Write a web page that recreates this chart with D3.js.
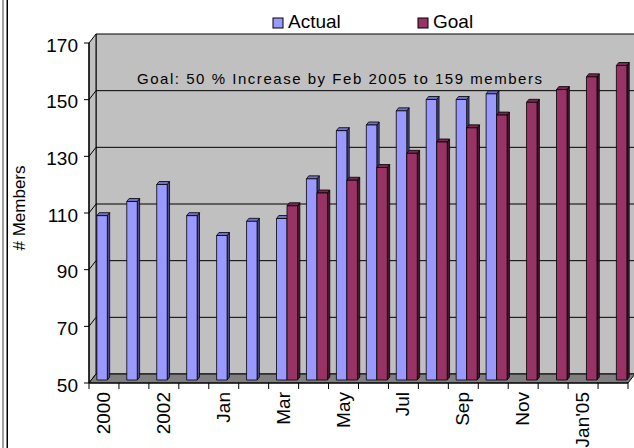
<!DOCTYPE html>
<meta charset="utf-8">
<title>Members: actual vs goal</title>
<style>
  body {
    margin: 0;
    padding: 0;
    background-color: #fff;
    overflow: hidden;
  }

  svg text {
    font-family: "Liberation Sans", Arial, sans-serif;
    fill: #000;
  }

  .wall {
    fill: #c0c0c0;
    stroke: #000;
    stroke-width: 1;
  }

  .floor {
    fill: #808080;
    stroke: #000;
    stroke-width: 1;
  }

  .grid line {
    stroke: #000;
    stroke-width: 1;
  }

  .bar path {
    stroke: #000;
    stroke-width: 0.8;
    stroke-linejoin: round;
  }
</style>

<body>
  <script src="https://cdn.jsdelivr.net/npm/d3@7"></script>
  <script>
    const categories = ["2000", "2001", "2002", "2003", "Jan", "Feb", "Mar", "Apr", "May", "Jun",
      "Jul", "Aug", "Sep", "Oct", "Nov", "Dec", "Jan'05", "Feb"];
    // Excel only prints every second category label
    const shownLabels = ["2000", "2002", "Jan", "Mar", "May", "Jul", "Sep", "Nov", "Jan'05"];
    const actual = [108, 113, 119, 108, 101, 106, 107, 121, 138, 140, 145, 149, 149, 151,
      null, null, null, null];
    const goal = [null, null, null, null, null, null, 111.5, 116, 120.5, 125, 130, 134, 139,
      143.5, 148, 152.5, 157, 161];
    const yTicks = [50, 70, 90, 110, 130, 150, 170];
    const seriesNames = ["Actual", "Goal"];
    const note = "Goal: 50 % Increase by Feb 2005 to 159 members";

    var width = 634,
      height = 448;

    // 3d depth of the plot box (back wall is shifted by this much)
    var depth = [7, -9];
    var f1 = 1 / 3, f2 = 2 / 3;

    var colors = {
      Actual: { front: "#9999ff", top: "#7070c8", side: "#4d4d8a" },
      Goal: { front: "#993366", top: "#7a2850", side: "#4a1530" }
    };

    // "Feb" shows up twice, so the band scale is keyed by index
    var x = d3.scaleBand().domain(d3.range(categories.length)).range([89, 628]);
    var inner = d3.scaleBand().domain(seriesNames).range([5.5, 26.5]);
    var y = d3.scaleLinear().domain([50, 170]).range([383, 43]);

    var pt = (px, v, f) => [px + depth[0] * f, y(v) + depth[1] * f];
    var poly = pts => "M" + pts.map(p => p.join(",")).join("L") + "Z";

    var svg = d3.select("body").append("svg")
      .attr("width", width)
      .attr("height", height);

    // outer frame edge on the left
    svg.append("rect").attr("x", 2).attr("y", 0).attr("width", 2).attr("height", height).attr("fill", "#a0a0a0");
    svg.append("rect").attr("x", 6.5).attr("y", 0).attr("width", 1.5).attr("height", height).attr("fill", "#000");

    var x0 = x.range()[0], x1 = x.range()[1];

    // back wall, side wall, floor
    svg.append("path").attr("class", "wall")
      .attr("d", poly([pt(x0, 170, 1), pt(x1 + 20, 170, 1), pt(x1 + 20, 50, 1), pt(x0, 50, 1)]));
    svg.append("path").attr("class", "wall")
      .attr("d", poly([pt(x0, 170, 0), pt(x0, 170, 1), pt(x0, 50, 1), pt(x0, 50, 0)]));

    var grid = svg.append("g").attr("class", "grid");
    yTicks.filter(v => v > 50 && v < 170).forEach(v => {
      var a = pt(x0, v, 0), b = pt(x0, v, 1), c = pt(x1 + 20, v, 1);
      grid.append("line").attr("x1", a[0]).attr("y1", a[1]).attr("x2", b[0]).attr("y2", b[1]);
      grid.append("line").attr("x1", b[0]).attr("y1", b[1]).attr("x2", c[0]).attr("y2", c[1]);
    });

    svg.append("path").attr("class", "floor")
      .attr("d", poly([pt(x0, 50, 0), pt(x1, 50, 0), pt(x1, 50, 1), pt(x1 + 20, 50, 1), pt(x0, 50, 1)]));

    // y axis
    var yAxis = svg.append("g");
    yAxis.append("line").attr("x1", x0).attr("x2", x0).attr("y1", y(170)).attr("y2", y(50))
      .attr("stroke", "#000").attr("stroke-width", 1.2);
    yAxis.selectAll(".tick").data(yTicks).enter().append("line")
      .attr("x1", x0 - 5).attr("x2", x0).attr("y1", d => y(d)).attr("y2", d => y(d))
      .attr("stroke", "#000");
    yAxis.selectAll(".tl").data(yTicks).enter().append("text")
      .attr("x", 78).attr("y", d => y(d) + 8.5)
      .attr("text-anchor", "end")
      .style("font-size", "19px")
      .text(d => d);

    // x axis
    var xAxis = svg.append("g");
    xAxis.append("line").attr("x1", x0).attr("x2", x1).attr("y1", y(50)).attr("y2", y(50))
      .attr("stroke", "#000").attr("stroke-width", 1.2);
    xAxis.selectAll(".tick").data(d3.range(categories.length + 1)).enter().append("line")
      .attr("x1", i => x0 + i * x.step()).attr("x2", i => x0 + i * x.step())
      .attr("y1", y(50)).attr("y2", y(50) + 6)
      .attr("stroke", "#000");
    xAxis.selectAll(".xl").data(d3.range(0, categories.length, 2)).enter().append("text")
      .attr("transform", i => `translate(${x(i) + x.bandwidth() / 2 + 6},392) rotate(-90)`)
      .attr("text-anchor", "end")
      .style("font-size", "19px")
      .text((i, j) => shownLabels[j]);

    // bars
    var bars = svg.append("g");
    categories.forEach((c, i) => {
      [["Actual", actual[i]], ["Goal", goal[i]]].forEach(([s, v]) => {
        if (v == null) return;
        var l = x(i) + inner(s), r = l + inner.bandwidth();
        var g = bars.append("g").attr("class", "bar");
        g.append("path").attr("fill", colors[s].side)
          .attr("d", poly([pt(r, v, f1), pt(r, 50, f1), pt(r, 50, f2), pt(r, v, f2)]));
        g.append("path").attr("fill", colors[s].top)
          .attr("d", poly([pt(l, v, f1), pt(r, v, f1), pt(r, v, f2), pt(l, v, f2)]));
        g.append("path").attr("fill", colors[s].front)
          .attr("d", poly([pt(l, v, f1), pt(r, v, f1), pt(r, 50, f1), pt(l, 50, f1)]));
      });
    });

    // note on the chart
    svg.append("text")
      .attr("x", 137).attr("y", 84)
      .attr("textLength", 405).attr("lengthAdjust", "spacing")
      .style("font-size", "15px")
      .text(note);

    // y title
    svg.append("text")
      .attr("transform", "translate(25,208) rotate(-90)")
      .attr("text-anchor", "middle")
      .style("font-size", "17px")
      .text("# Members");

    // legend
    var legendX = [273, 418];
    var legend = svg.append("g");
    seriesNames.forEach((s, i) => {
      legend.append("rect")
        .attr("x", legendX[i]).attr("y", 18).attr("width", 10).attr("height", 10)
        .attr("fill", colors[s].front).attr("stroke", "#000");
      legend.append("text")
        .attr("x", legendX[i] + 15).attr("y", 28)
        .style("font-size", "19px")
        .text(s);
    });
  </script>
</body>
